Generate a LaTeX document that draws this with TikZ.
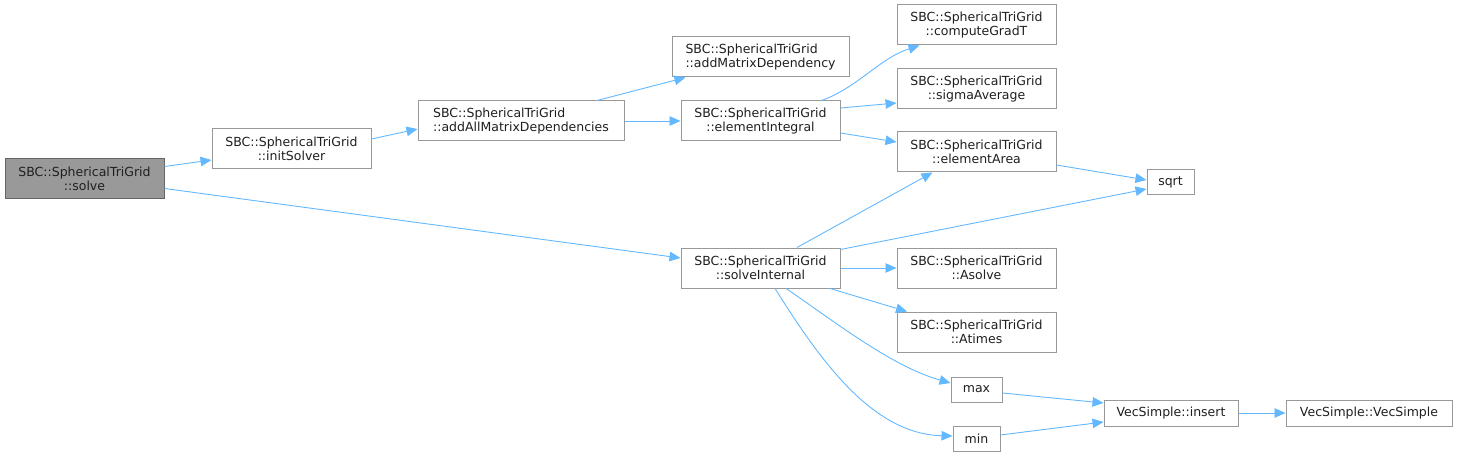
\documentclass[tikz,border=0pt]{standalone}
\usepackage{fontspec}
\setmainfont{DejaVu Sans}
\usetikzlibrary{arrows.meta}
\definecolor{edgeblue}{HTML}{63B8FF}
\definecolor{boxgray}{HTML}{999999}
\definecolor{curgray}{HTML}{666666}
\begin{document}
\begin{tikzpicture}[x=1pt,y=-1pt,
    fn/.style={draw=boxgray,line width=1pt,fill=white,minimum width=159pt,minimum height=40pt,
      inner sep=0pt,align=center,font=\fontsize{12.5}{14.3}\selectfont,text=black!88},
    fnl/.style={fn,align=left},
    leaf/.style={fn,minimum height=25pt},
    call/.style={draw=edgeblue,line width=0.9pt,-{Triangle[length=11pt,width=9.5pt]}}]
\useasboundingbox (0,0) rectangle (1459,457);
\node[fn,fill=boxgray,draw=curgray] (solve) at (84.5,178.5) {SBC::SphericalTriGrid\\::solve};
\node[fn] (initsolver) at (291.5,149) {SBC::SphericalTriGrid\\::initSolver};
\node[fnl,minimum width=206pt] (addall) at (521,121) {SBC::SphericalTriGrid\\::addAllMatrixDependencies};
\node[fnl,minimum width=177pt] (adddep) at (760.5,57) {SBC::SphericalTriGrid\\::addMatrixDependency};
\node[fn] (elemint) at (760.5,121) {SBC::SphericalTriGrid\\::elementIntegral};
\node[fn] (gradt) at (976.5,25) {SBC::SphericalTriGrid\\::computeGradT};
\node[fn] (sigma) at (976.5,89) {SBC::SphericalTriGrid\\::sigmaAverage};
\node[fn] (area) at (976.5,152) {SBC::SphericalTriGrid\\::elementArea};
\node[leaf,minimum width=47pt] (sqrt) at (1170.5,182.5) {sqrt};
\node[fn] (solveint) at (760.5,268) {SBC::SphericalTriGrid\\::solveInternal};
\node[fn] (asolve) at (976.5,268) {SBC::SphericalTriGrid\\::Asolve};
\node[fn] (atimes) at (976.5,332) {SBC::SphericalTriGrid\\::Atimes};
\node[leaf,minimum width=51pt] (max) at (976.5,389.5) {max};
\node[leaf,minimum width=47pt] (min) at (976.5,438.5) {min};
\node[leaf,minimum width=134pt,minimum height=26pt] (insert) at (1171,413) {VecSimple::insert};
\node[leaf,minimum width=166pt,minimum height=26pt] (vecsimple) at (1369,413) {VecSimple::VecSimple};

\draw[call] ([yshift=12pt]solve.east) -- ([yshift=-11pt]initsolver.west);
\draw[call] ([yshift=-10pt]solve.east) -- ([yshift=10pt]solveint.west);
\draw[call] ([yshift=10pt]initsolver.east) -- ([yshift=-8pt]addall.west);
\draw[call] ([xshift=76pt]addall.north) -- ([xshift=-75pt]adddep.south);
\draw[call] (addall.east) -- (elemint.west);
\draw[call] ([xshift=61pt]elemint.north) .. controls (857,88) and (880,58) .. ([xshift=-57pt]gradt.south);
\draw[call] ([yshift=13pt]elemint.east) -- ([yshift=-14pt]sigma.west);
\draw[call] ([yshift=-12pt]elemint.east) -- ([yshift=10pt]area.west);
\draw[call] ([yshift=-13pt]area.east) -- ([yshift=2.5pt]sqrt.west);
\draw[call] ([xshift=36.5pt]solveint.north) -- ([xshift=-44pt]area.south);
\draw[call] ([yshift=-2pt]solveint.north east) -- ([yshift=-6.5pt]sqrt.west);
\draw[call] (solveint.east) -- (asolve.west);
\draw[call] ([xshift=69.5pt]solveint.south) -- ([xshift=-69.5pt]atimes.north);
\draw[call] ([xshift=25.5pt]solveint.south) .. controls (830,318) and (890,366) .. ([yshift=6.5pt]max.west);
\draw[call] ([xshift=14.5pt]solveint.south) .. controls (820,360) and (872,434) .. ([yshift=2.5pt]min.west);
\draw[call] ([yshift=-3.5pt]max.east) -- ([yshift=10pt]insert.west);
\draw[call] ([yshift=3.5pt]min.east) -- ([yshift=-9pt]insert.west);
\draw[call] (insert.east) -- (vecsimple.west);
\end{tikzpicture}
\end{document}
